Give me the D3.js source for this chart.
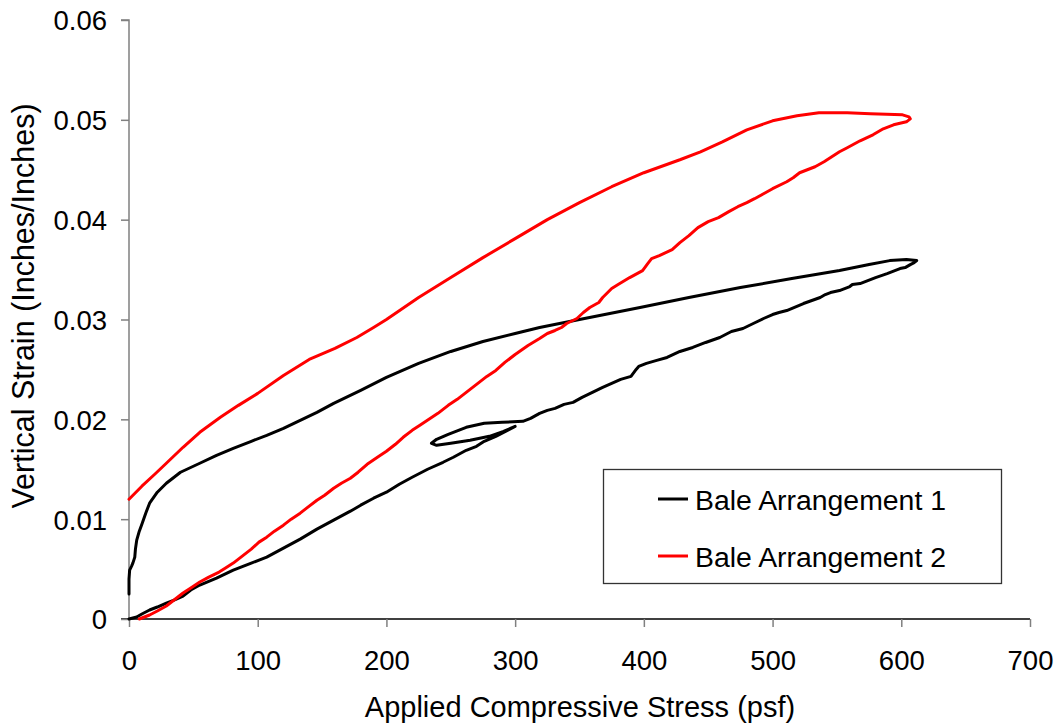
<!DOCTYPE html>
<html>
<head>
<meta charset="utf-8">
<script src="https://cdn.jsdelivr.net/npm/d3@7/dist/d3.min.js"></script>
<style>
  html, body { margin: 0; padding: 0; background: #fff; }
  svg text { font-family: "Liberation Sans", Arial, sans-serif; fill: #000; }
</style>
</head>
<body>
<svg id="chart" width="1060" height="725"></svg>
<script>
// ---- Data ----
const seriesNames = ["Bale Arrangement 1", "Bale Arrangement 2"];
const seriesColors = ["#000000", "#ff0000"];

const xTicks = [0, 100, 200, 300, 400, 500, 600, 700];
const yTicks = [0, 0.01, 0.02, 0.03, 0.04, 0.05, 0.06];
const xTitle = "Applied Compressive Stress (psf)";
const yTitle = "Vertical Strain (Inches/Inches)";

const bale1Stress = [
  0, 0, 0.5, 2, 3, 4.5, 5, 6, 8, 10, 13, 16, 22, 29, 40, 55, 68, 81, 95, 107, 120, 133, 146, 159, 180, 200, 225, 250, 275, 300, 319, 350, 397, 435, 475, 515, 552, 575, 591, 604, 612,
  610, 607, 603, 599, 589, 580, 568, 562, 560, 552, 545, 541, 537, 524, 511, 505, 500, 493, 485, 477, 468, 459, 448, 438, 428, 418, 410, 402, 396, 394, 390, 382, 375, 368, 360, 352, 345, 338, 331, 325, 319, 312, 306,
  290, 276, 262, 248, 239, 235, 239, 250, 265, 280, 291, 300,
  294, 285, 276, 270, 262, 252, 244, 232, 220, 210, 200, 190, 180, 172, 159, 146, 133, 120, 107, 95, 81, 68, 55, 48, 42, 35, 29, 22, 16, 10, 6, 0
];
const bale1Strain = [
  0.0025, 0.0040, 0.0049, 0.0053, 0.0056, 0.0062, 0.0070, 0.0079, 0.0088, 0.0095, 0.0106, 0.0116, 0.0127, 0.0136, 0.0147, 0.0156, 0.0164, 0.0171, 0.0178, 0.0184, 0.0191, 0.0199, 0.0207, 0.0216, 0.0229, 0.0242, 0.0256, 0.0268, 0.0278, 0.0286, 0.0292, 0.0300, 0.0312, 0.0322, 0.0332, 0.0341, 0.0349, 0.0355, 0.0359, 0.0360, 0.0359,
  0.0357, 0.0355, 0.0352, 0.0351, 0.0346, 0.0342, 0.0336, 0.0335, 0.0333, 0.0329, 0.0327, 0.0325, 0.0322, 0.0316, 0.0309, 0.0307, 0.0305, 0.0301, 0.0296, 0.0291, 0.0288, 0.0282, 0.0277, 0.0272, 0.0268, 0.0262, 0.0259, 0.0256, 0.0253, 0.0250, 0.0243, 0.0240, 0.0236, 0.0232, 0.0227, 0.0222, 0.0217, 0.0215, 0.0211, 0.0209, 0.0206, 0.0201, 0.0198,
  0.0197, 0.0196, 0.0192, 0.0185, 0.0180, 0.0176, 0.0174, 0.0176, 0.0179, 0.0183, 0.0188, 0.0193,
  0.0189, 0.0183, 0.0178, 0.0173, 0.0169, 0.0162, 0.0157, 0.0150, 0.0142, 0.0135, 0.0127, 0.0121, 0.0114, 0.0108, 0.0099, 0.0090, 0.0080, 0.0071, 0.0062, 0.0056, 0.0049, 0.0041, 0.0034, 0.0029, 0.0023, 0.0019, 0.0016, 0.0012, 0.0009, 0.0005, 0.0002, 0.0
];

const bale2Stress = [
  0, 10, 20, 29, 42, 55, 71, 85, 100, 120, 140, 160, 177, 190, 200, 225, 250, 275, 300, 325, 350, 375, 400, 428, 444, 461, 480, 500, 519, 536, 558, 576, 601, 606, 607, 604,
  594, 586, 578, 568, 558, 552, 546, 540, 533, 521, 516, 511, 500, 493, 486, 480, 473, 466, 458, 450, 442, 435, 428, 422, 412, 406, 403, 399, 389, 380, 375, 368, 365, 358, 353, 348, 340, 336, 331, 325, 319, 310, 300, 292, 285, 278, 270, 262, 255, 248, 240, 233, 226, 220, 213, 207, 200, 193, 185, 178, 172, 165, 159, 152, 146, 139, 133, 126, 120, 113, 107, 101, 95, 88, 81, 75, 70, 62, 55, 48, 42, 35, 29, 22, 16, 8
];
const bale2Strain = [
  0.0120, 0.0133, 0.0145, 0.0156, 0.0172, 0.0187, 0.0202, 0.0214, 0.0226, 0.0244, 0.0260, 0.0271, 0.0282, 0.0292, 0.0300, 0.0322, 0.0342, 0.0362, 0.0381, 0.0400, 0.0417, 0.0433, 0.0447, 0.0460, 0.0468, 0.0478, 0.0490, 0.0499, 0.0504, 0.0507, 0.0507, 0.0506, 0.0505, 0.0503, 0.0501, 0.0498,
  0.0495, 0.0491, 0.0485, 0.0479, 0.0472, 0.0468, 0.0463, 0.0458, 0.0453, 0.0447, 0.0442, 0.0438, 0.0431, 0.0426, 0.0421, 0.0417, 0.0413, 0.0408, 0.0402, 0.0398, 0.0392, 0.0384, 0.0377, 0.0370, 0.0364, 0.0361, 0.0356, 0.0349, 0.0342, 0.0335, 0.0331, 0.0322, 0.0317, 0.0312, 0.0307, 0.0301, 0.0296, 0.0292, 0.0289, 0.0286, 0.0281, 0.0274, 0.0265, 0.0257, 0.0249, 0.0243, 0.0235, 0.0227, 0.0220, 0.0214, 0.0206, 0.0200, 0.0194, 0.0189, 0.0182, 0.0175, 0.0168, 0.0162, 0.0155, 0.0147, 0.0141, 0.0136, 0.0131, 0.0124, 0.0119, 0.0112, 0.0106, 0.0100, 0.0094, 0.0088, 0.0082, 0.0077, 0.0070, 0.0063, 0.0056, 0.0051, 0.0047, 0.0042, 0.0037, 0.0031, 0.0026, 0.0019, 0.0013, 0.0008, 0.0004, 0.0000
];

// ---- Chart ----
const svg = d3.select("#chart");
const x = d3.scaleLinear().domain([0, 700]).range([129, 1030]);
const y = d3.scaleLinear().domain([0, 0.06]).range([619, 20]);
const tickFont = 27.5;
const axisGray = "#808080";

// Axes
const xAxis = d3.axisBottom(x).tickValues(xTicks).tickSize(8).tickPadding(8).tickFormat(d3.format("d"));
const gx = svg.append("g").attr("transform", `translate(0,${y(0)})`).call(xAxis);
gx.select(".domain").attr("stroke", "#000").attr("stroke-width", 1.5).attr("d", `M${x(0) - 8},0H${x(700)}`);
gx.selectAll(".tick line").attr("stroke", axisGray).attr("stroke-width", 1.5);
gx.selectAll(".tick text").attr("font-size", tickFont).attr("dy", 0).attr("y", 51);

const yAxis = d3.axisLeft(y).tickValues(yTicks).tickSize(8).tickPadding(14).tickFormat(d => d === 0 ? "0" : d3.format(".2f")(d));
const gy = svg.append("g").attr("transform", `translate(${x(0)},0)`).call(yAxis);
gy.select(".domain").attr("stroke", axisGray).attr("stroke-width", 1.5).attr("d", `M-8,${y(0.06)}H0V${y(0)}`);
gy.selectAll(".tick line").attr("stroke", axisGray).attr("stroke-width", 1.5);
gy.selectAll(".tick text").attr("font-size", tickFont).attr("dy", "0.36em");
svg.selectAll(".tick text").attr("font-family", "Liberation Sans, Arial, sans-serif").attr("fill", "#000");

// Titles
svg.append("text").attr("x", 580).attr("y", 717).attr("text-anchor", "middle")
  .attr("font-size", 29).text(xTitle);
svg.append("text").attr("transform", "translate(34,306) rotate(-90)").attr("text-anchor", "middle")
  .attr("font-size", 30.5).text(yTitle);

// Lines
const line = d3.line().x(d => x(d[0])).y(d => y(d[1]));
const series = [
  bale1Stress.map((s, i) => [s, bale1Strain[i]]),
  bale2Stress.map((s, i) => [s, bale2Strain[i]])
];
series.forEach((pts, i) => {
  svg.append("path").attr("d", line(pts)).attr("fill", "none")
    .attr("stroke", seriesColors[i]).attr("stroke-width", 3)
    .attr("stroke-linejoin", "round").attr("stroke-linecap", "round");
});

// Legend
const lg = svg.append("g");
lg.append("rect").attr("x", 603.5).attr("y", 469.5).attr("width", 398).attr("height", 114)
  .attr("fill", "#fff").attr("stroke", "#333").attr("stroke-width", 1.3);
seriesNames.forEach((name, i) => {
  const cy = 499 + i * 57;
  lg.append("line").attr("x1", 658).attr("x2", 688).attr("y1", cy).attr("y2", cy)
    .attr("stroke", seriesColors[i]).attr("stroke-width", 3);
  lg.append("text").attr("x", 695).attr("y", cy + 11).attr("font-size", 28.4).text(name);
});
</script>
</body>
</html>
